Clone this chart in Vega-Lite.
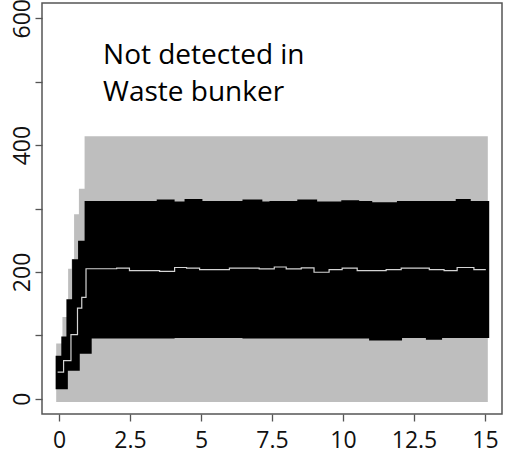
{
  "$schema": "https://vega.github.io/schema/vega-lite/v6.json",
  "width": 460,
  "height": 411,
  "autosize": "none",
  "padding": {"left": 42, "top": 3, "right": 4, "bottom": 41},
  "background": "white",
  "config": {
    "view": {"stroke": "#555555", "strokeWidth": 1.5},
    "axis": {"domain": false, "grid": false, "tickColor": "#555555", "tickSize": 7, "tickWidth": 1.3, "labelFont": "Open Sans", "labelFontSize": 23, "labelColor": "#111111", "title": null, "labelOverlap": false}
  },
  "datasets": {
    "gray": [
      {"t": -0.1, "lo": -5, "hi": 87},
      {"t": 0.12, "lo": -5, "hi": 129},
      {"t": 0.32, "lo": -5, "hi": 205},
      {"t": 0.44, "lo": -5, "hi": 220},
      {"t": 0.53, "lo": -5, "hi": 291},
      {"t": 0.7, "lo": -5, "hi": 331},
      {"t": 0.9, "lo": -5, "hi": 414},
      {"t": 15.1, "lo": -5, "hi": 414}
    ],
    "black": [
      {"t": -0.12, "lo": 15, "hi": 68},
      {"t": 0.08, "lo": 15, "hi": 98},
      {"t": 0.26, "lo": 15, "hi": 157},
      {"t": 0.31, "lo": 44, "hi": 157},
      {"t": 0.46, "lo": 44, "hi": 220},
      {"t": 0.67, "lo": 44, "hi": 249},
      {"t": 0.73, "lo": 71, "hi": 249},
      {"t": 0.9, "lo": 71, "hi": 312},
      {"t": 1.15, "lo": 95, "hi": 312},
      {"t": 3.44, "lo": 95, "hi": 314},
      {"t": 4.07, "lo": 96, "hi": 311},
      {"t": 4.42, "lo": 96, "hi": 315},
      {"t": 5.05, "lo": 96, "hi": 312},
      {"t": 6.46, "lo": 95, "hi": 314},
      {"t": 7.16, "lo": 95, "hi": 311},
      {"t": 7.41, "lo": 95, "hi": 312},
      {"t": 8.39, "lo": 95, "hi": 314},
      {"t": 9.09, "lo": 95, "hi": 311},
      {"t": 9.94, "lo": 95, "hi": 313},
      {"t": 10.57, "lo": 95, "hi": 312},
      {"t": 10.92, "lo": 92, "hi": 312},
      {"t": 11.03, "lo": 92, "hi": 310},
      {"t": 11.9, "lo": 92, "hi": 312},
      {"t": 12.08, "lo": 96, "hi": 312},
      {"t": 12.92, "lo": 93, "hi": 312},
      {"t": 13.49, "lo": 96, "hi": 312},
      {"t": 13.97, "lo": 96, "hi": 315},
      {"t": 14.5, "lo": 96, "hi": 312},
      {"t": 15.15, "lo": 96, "hi": 312}
    ],
    "med": [
      {"t": -0.05, "v": 42},
      {"t": 0.16, "v": 60},
      {"t": 0.42, "v": 101},
      {"t": 0.65, "v": 143},
      {"t": 0.8, "v": 160},
      {"t": 0.95, "v": 205},
      {"t": 2.03, "v": 206},
      {"t": 2.48, "v": 202},
      {"t": 3.54, "v": 201},
      {"t": 4.07, "v": 207},
      {"t": 4.49, "v": 206},
      {"t": 4.95, "v": 203.6},
      {"t": 6.0, "v": 206},
      {"t": 7.05, "v": 204.7},
      {"t": 7.58, "v": 207.8},
      {"t": 8.0, "v": 204.7},
      {"t": 8.53, "v": 206.3},
      {"t": 8.98, "v": 199.5},
      {"t": 9.51, "v": 203.6},
      {"t": 9.97, "v": 206},
      {"t": 10.5, "v": 202},
      {"t": 11.52, "v": 203.6},
      {"t": 12.05, "v": 206},
      {"t": 13.04, "v": 203.6},
      {"t": 13.56, "v": 202},
      {"t": 14.02, "v": 207},
      {"t": 14.61, "v": 203.6},
      {"t": 15.03, "v": 203.6}
    ],
    "note": [
      {"t": 1.55, "v": 528, "label": "Not detected in\nWaste bunker"}
    ]
  },
  "layer": [
    {
      "data": {"name": "gray"},
      "mark": {"type": "area", "interpolate": "step-after", "color": "#bebebe"},
      "encoding": {
        "x": {"field": "t", "type": "quantitative", "scale": {"domain": [-0.6, 15.6], "nice": false, "zero": false},
              "axis": {"values": [0, 2.5, 5, 7.5, 10, 12.5, 15], "labelExpr": "datum.value", "labelPadding": 8}},
        "y": {"field": "lo", "type": "quantitative", "scale": {"domain": [-24, 624], "nice": false, "zero": false},
              "axis": {"values": [0, 100, 200, 300, 400, 500, 600], "labelExpr": "datum.value % 200 == 0 ? datum.label : ''", "labelAngle": -90, "labelAlign": "center", "labelBaseline": "bottom", "labelPadding": 1}},
        "y2": {"field": "hi"}
      }
    },
    {
      "data": {"name": "black"},
      "mark": {"type": "area", "interpolate": "step-after", "color": "#000000"},
      "encoding": {
        "x": {"field": "t", "type": "quantitative"},
        "y": {"field": "lo", "type": "quantitative"},
        "y2": {"field": "hi"}
      }
    },
    {
      "data": {"name": "med"},
      "mark": {"type": "line", "interpolate": "step-after", "color": "#d4d4d4", "strokeWidth": 1.2},
      "encoding": {
        "x": {"field": "t", "type": "quantitative"},
        "y": {"field": "v", "type": "quantitative"}
      }
    },
    {
      "data": {"name": "note"},
      "mark": {"type": "text", "align": "left", "baseline": "alphabetic", "font": "Open Sans", "fontSize": 28, "lineHeight": 37, "lineBreak": "\n", "color": "#000000"},
      "encoding": {
        "x": {"field": "t", "type": "quantitative"},
        "y": {"field": "v", "type": "quantitative"},
        "text": {"field": "label"}
      }
    }
  ]
}
